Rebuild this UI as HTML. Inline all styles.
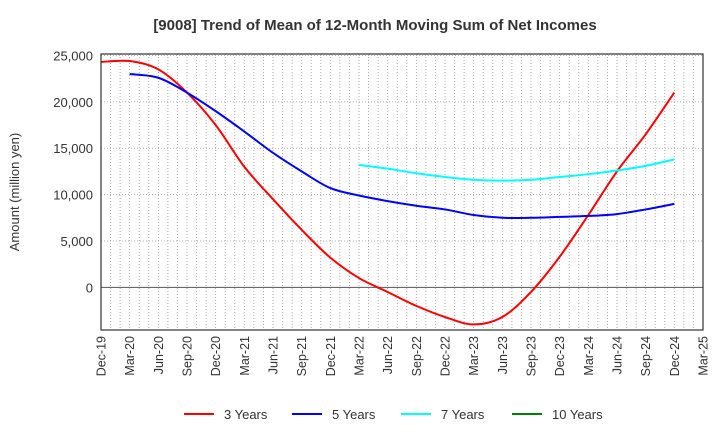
<!DOCTYPE html>
<html><head><meta charset="utf-8"><style>
body{margin:0;background:#fff;font-family:"Liberation Sans",sans-serif}
svg text{font-family:"Liberation Sans",sans-serif}
</style></head><body>
<svg id="c" width="720" height="440" xmlns="http://www.w3.org/2000/svg">
<text x="375" y="30" text-anchor="middle" font-size="15" font-weight="bold" fill="#333">[9008]  Trend of Mean of 12-Month Moving Sum of Net Incomes</text>
<text transform="translate(19,192) rotate(-90)" text-anchor="middle" font-size="13" fill="#333">Amount (million yen)</text>
<g id="grid"></g><g id="series"></g><g id="axes"></g><g id="legend"></g>
</svg>
<script>
const xLabels=["Dec-19","Mar-20","Jun-20","Sep-20","Dec-20","Mar-21","Jun-21","Sep-21","Dec-21","Mar-22","Jun-22","Sep-22","Dec-22","Mar-23","Jun-23","Sep-23","Dec-23","Mar-24","Jun-24","Sep-24","Dec-24","Mar-25"];
const yTicks=[0,5000,10000,15000,20000,25000];
const s3=[24300,24400,23500,21000,17500,13000,9500,6200,3200,1000,-500,-2000,-3200,-4000,-3200,-500,3300,7800,12500,16500,21000];
const s5=[null,23000,22600,21000,19000,16800,14500,12500,10700,9900,9300,8800,8400,7800,7500,7500,7600,7700,7900,8400,9000];
const s7=[null,null,null,null,null,null,null,null,null,13200,12800,12300,11900,11600,11500,11600,11900,12200,12600,13100,13800];
const s10=[];
const L=101,R=703,T=54,B=330,yMin=-4600,yMax=25160;
const X=i=>L+i*3*(R-L)/63, Y=v=>B-(v-yMin)/(yMax-yMin)*(B-T);
const ns="http://www.w3.org/2000/svg";
function mk(p,t,a){const e=document.createElementNS(ns,t);for(const k in a)e.setAttribute(k,a[k]);document.getElementById(p).appendChild(e);return e;}
for(let m=1;m<63;m++){const x=L+m*(R-L)/63;const e=mk("grid","line",{x1:x,x2:x,y1:T,y2:B,stroke:"#999","stroke-width":0.8,"stroke-dasharray":"1,2"});

}
for(let v=-5000;v<=25000;v+=5000){const y=Y(v);if(y<T||y>B)continue;const e=mk("grid","line",{x1:L,x2:R,y1:y,y2:y,stroke:v===0?"#555":"#999","stroke-width":v===0?1:0.8,"stroke-dasharray":v===0?"":"1,2"});

}
const fr=mk("axes","rect",{x:L,y:T,width:R-L,height:B-T,fill:"none",stroke:"#333","stroke-width":1.2});


yTicks.forEach(v=>{const t=mk("axes","text",{x:L-8,y:Y(v)+5,"text-anchor":"end","font-size":13,fill:"#333"});t.textContent=v.toLocaleString("en-US");

});
xLabels.forEach((s,i)=>{const x=X(i);const t=mk("axes","text",{transform:`translate(${x+4.5},${B+6}) rotate(-90)`,"text-anchor":"end","font-size":12.5,fill:"#333"});t.textContent=s;

});
function path(arr){const p=[];arr.forEach((v,i)=>{if(v!=null)p.push([X(i),Y(v)])});if(p.length<2)return"";let d=`M${p[0][0]},${p[0][1]}`;
for(let i=0;i<p.length-1;i++){const p0=p[i-1]||p[i],p1=p[i],p2=p[i+1],p3=p[i+2]||p2;
d+=`C${p1[0]+(p2[0]-p0[0])/6},${p1[1]+(p2[1]-p0[1])/6} ${p2[0]-(p3[0]-p1[0])/6},${p2[1]-(p3[1]-p1[1])/6} ${p2[0]},${p2[1]}`;}return d;}
const ser=[[s3,"#ff0000","3 Years","series-3-years"],[s5,"#0000ff","5 Years","series-5-years"],[s7,"#00ffff","7 Years","series-7-years"],[s10,"#008000","10 Years","series-10-years"]];
ser.forEach(([a,c,n,id])=>{const d=path(a);if(d){const e=mk("series","path",{d:d,fill:"none",stroke:c,"stroke-width":2});

}});
const lx=[184,292,401,512];
ser.forEach(([a,c,n],i)=>{const g=mk("legend","g",{});


const l=document.createElementNS(ns,"line");l.setAttribute("x1",lx[i]);l.setAttribute("x2",lx[i]+30);l.setAttribute("y1",414);l.setAttribute("y2",414);l.setAttribute("stroke",c);l.setAttribute("stroke-width",2);g.appendChild(l);
const t=document.createElementNS(ns,"text");t.setAttribute("x",lx[i]+40);t.setAttribute("y",419);t.setAttribute("font-size",13);t.setAttribute("fill","#333");t.textContent=n;g.appendChild(t);});
</script>
</body></html>
